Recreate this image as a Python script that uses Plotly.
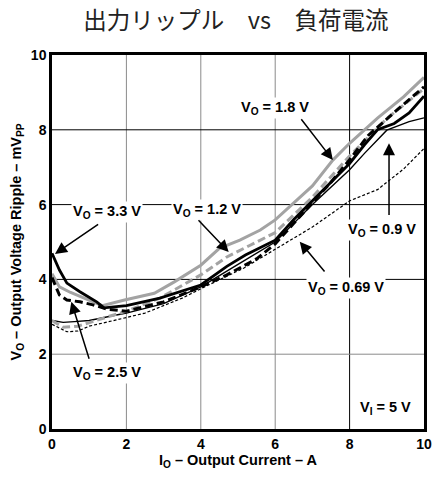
import plotly.graph_objects as go

# ---- data ----
x_33 = [0, 0.2, 0.4, 0.75, 1.2, 1.4, 2.0, 2.9, 4.0, 4.7, 5.2, 6.0, 6.5, 7.0, 7.5, 8.0, 8.4, 8.75, 9.2, 9.6, 10]
y_33 = [4.7, 4.25, 3.9, 3.67, 3.4, 3.24, 3.3, 3.5, 3.85, 4.35, 4.65, 5.05, 5.6, 6.1, 6.6, 7.1, 7.6, 8.0, 8.17, 8.45, 8.9]

x_25 = [0, 0.2, 0.4, 0.75, 1.1, 1.5, 2, 3, 4, 4.7, 5.5, 6, 6.5, 7, 7.5, 8, 8.5, 9.3, 10]
y_25 = [4.05, 3.58, 3.45, 3.4, 3.32, 3.2, 3.15, 3.4, 3.8, 4.12, 4.55, 4.95, 5.5, 6.05, 6.6, 7.2, 7.85, 8.55, 9.15]

x_18 = [0, 0.2, 0.5, 1.0, 1.35, 1.95, 2.75, 3.3, 4.0, 4.5, 5.05, 5.6, 6.0, 7.0, 7.55, 8.0, 8.75, 9.45, 10]
y_18 = [4.15, 3.8, 3.65, 3.45, 3.3, 3.45, 3.63, 3.94, 4.38, 4.83, 5.05, 5.32, 5.59, 6.5, 7.19, 7.64, 8.31, 8.88, 9.4]

x_12 = [0, 0.3, 0.7, 1.0, 1.5, 2, 2.9, 4.0, 4.7, 5.3, 6.0, 7.0, 8.0, 9.0, 10]
y_12 = [2.9, 2.72, 2.75, 2.85, 3.0, 3.15, 3.5, 4.12, 4.6, 4.9, 5.25, 6.2, 7.3, 8.3, 9.1]

x_09 = [0, 0.3, 0.6, 1.0, 1.5, 2, 3, 4, 5, 6, 7, 8, 8.4, 9.0, 9.6, 10]
y_09 = [2.9, 2.85, 2.87, 2.9, 3.0, 3.1, 3.35, 3.8, 4.4, 5.0, 6.0, 6.93, 7.37, 7.99, 8.22, 8.32]

x_069 = [0, 0.4, 0.7, 1.0, 1.7, 2.5, 3.5, 4.0, 5.15, 6.0, 7.0, 8.0, 8.75, 9.45, 10]
y_069 = [2.8, 2.6, 2.62, 2.75, 2.91, 3.1, 3.5, 3.75, 4.3, 4.8, 5.4, 6.1, 6.4, 6.95, 7.5]

tick_vals = [0, 2, 4, 6, 8, 10]
tick_text = ["0", "2", "4", "6", "8", "10"]

title = "出力リップル　vs　負荷電流"
x_title = "I<sub>O</sub> – Output Current – A"
y_title = "V<sub>O</sub> – Output Voltage Ripple – mV<sub>PP</sub>"

GRAY = "#a3a3a3"
FONT = "Liberation Sans, Arial, sans-serif"

fig = go.Figure()
fig.add_trace(go.Scatter(x=x_069, y=y_069, mode="lines", line=dict(color="black", width=1.2, dash="3px,2px")))
fig.add_trace(go.Scatter(x=x_09, y=y_09, mode="lines", line=dict(color="black", width=1.4)))
fig.add_trace(go.Scatter(x=x_12, y=y_12, mode="lines", line=dict(color=GRAY, width=3, dash="8px,4px")))
fig.add_trace(go.Scatter(x=x_18, y=y_18, mode="lines", line=dict(color=GRAY, width=3)))
fig.add_trace(go.Scatter(x=x_25, y=y_25, mode="lines", line=dict(color="black", width=3, dash="8px,4px")))
fig.add_trace(go.Scatter(x=x_33, y=y_33, mode="lines", line=dict(color="black", width=2.8)))

# gridlines: some gray, some black as in the reference
shapes = []
for v, c in [(2, "#8a8a8a"), (4, "#8a8a8a"), (6, "#8a8a8a"), (8, "black")]:
    shapes.append(dict(type="line", xref="x", yref="paper", x0=v, x1=v, y0=0, y1=1,
                       line=dict(color=c, width=1), layer="below"))
for v, c in [(2, "#8a8a8a"), (4, "black"), (6, "black"), (8, "black")]:
    shapes.append(dict(type="line", xref="paper", yref="y", x0=0, x1=1, y0=v, y1=v,
                       line=dict(color=c, width=1), layer="below"))

lab_font = dict(family=FONT, size=14.5, color="black")
labels = [
    ("V<sub>O</sub> = 3.3 V", 1.49, 5.8),
    ("V<sub>O</sub> = 1.2 V", 4.16, 5.85),
    ("V<sub>O</sub> = 1.8 V", 6.0, 8.58),
    ("V<sub>O</sub> = 0.9 V", 8.88, 5.32),
    ("V<sub>O</sub> = 0.69 V", 7.9, 3.77),
    ("V<sub>O</sub> = 2.5 V", 1.47, 1.5),
    ("V<sub>I</sub> = 5 V", 8.96, 0.56),
]
arrows = [
    (1.28, 5.5, 0.08, 4.68),
    (3.9, 5.62, 4.75, 4.73),
    (6.67, 8.32, 7.55, 7.19),
    (9.06, 5.68, 9.06, 7.64),
    (7.36, 4.17, 6.66, 5.01),
    (1.01, 1.84, 0.52, 3.4),
]
annotations = []
for t, x, y in labels:
    annotations.append(dict(text="<b>" + t + "</b>", x=x, y=y, xref="x", yref="y", showarrow=False,
                            font=lab_font, bgcolor="white", borderpad=1))
for ax, ay, x, y in arrows:
    annotations.append(dict(text="", x=x, y=y, ax=ax, ay=ay, xref="x", yref="y", axref="x", ayref="y",
                            showarrow=True, arrowhead=2, arrowsize=1.6, arrowwidth=1.5, arrowcolor="black",
                            standoff=0, startstandoff=0))

axis_common = dict(range=[0, 10], tickvals=tick_vals, ticktext=["<b>" + s + "</b>" for s in tick_text],
                   showgrid=False, zeroline=False, showline=True, mirror=True, linecolor="black",
                   linewidth=2.5, ticks="", tickfont=dict(family=FONT, size=14, color="black"),
                   fixedrange=True, automargin=False, ticklabeloverflow="allow")

fig.update_layout(
    width=433, height=480,
    margin=dict(l=52, r=9, t=55, b=51),
    paper_bgcolor="white", plot_bgcolor="white",
    showlegend=False,
    title=dict(text=title, x=0.545, xanchor="center", y=0.956, yanchor="middle",
               font=dict(family="Noto Sans CJK JP", size=23.5, color="#222")),
    xaxis=dict(**axis_common, title=dict(text="<b>" + x_title + "</b>", standoff=4,
               font=dict(family=FONT, size=14.5, color="black"))),
    yaxis=dict(**axis_common, title=dict(text="<b>" + y_title + "</b>", standoff=6,
               font=dict(family=FONT, size=14.5, color="black"))),
    shapes=shapes,
    annotations=annotations,
)

fig.write_html("out.html")
